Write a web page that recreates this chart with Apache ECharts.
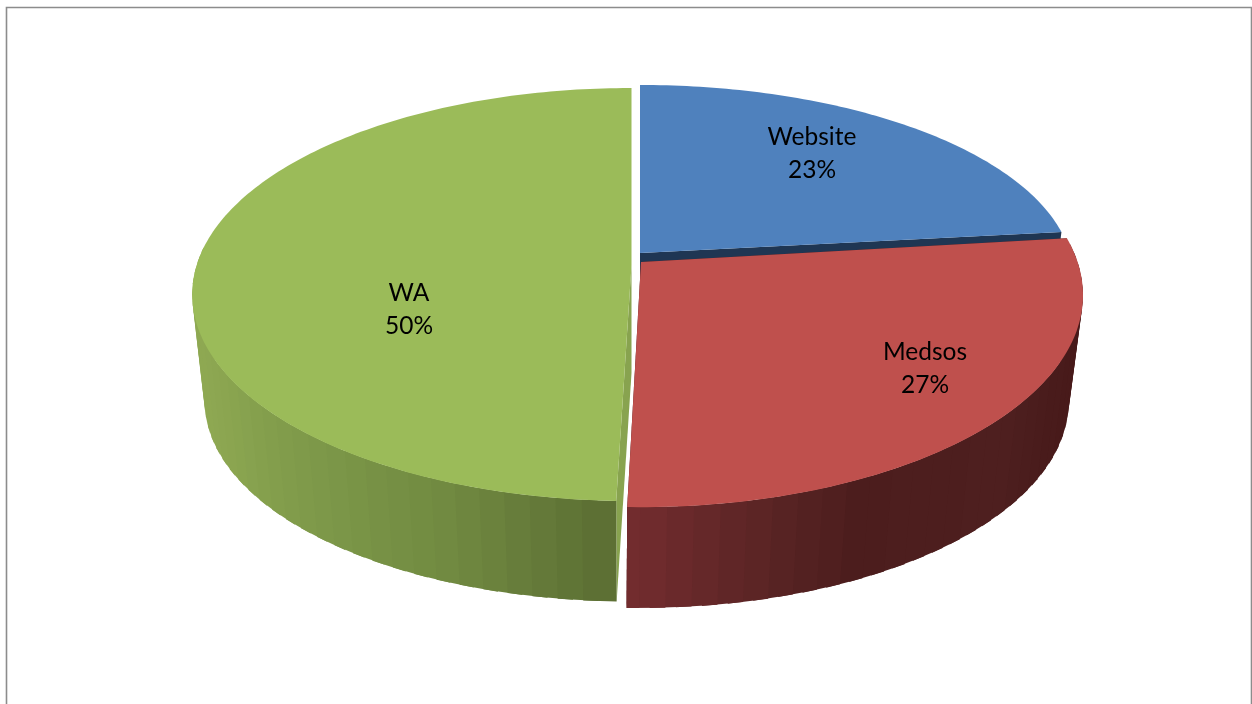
<!DOCTYPE html>
<html>
<head>
<meta charset="utf-8">
<style>html,body{margin:0;padding:0;background:#fff}#c{width:1252px;height:704px}</style>
<script src="https://cdn.jsdelivr.net/npm/echarts@6/dist/echarts.min.js"></script>
</head>
<body>
<div id="c"></div>
<script>
const categories = ['Website', 'Medsos', 'WA'];
const values = [23.2, 27.28, 49.52];
const topColors = ['#4f81bd', '#bf504d', '#9bbb59'];
const faceColors = ['#1f3653', '#4a1c1c', '#88a34f'];
const wallStops = [
  [[0, '#1f3653'], [1300, '#1f3653']],
  [[627, '#722c2e'], [750, '#5c2525'], [850, '#4c1d1d'], [1000, '#4e1f1f'], [1070, '#481a1a']],
  [[205, '#8ea852'], [300, '#7f9a4a'], [450, '#718a41'], [616, '#5b6e33']]
];
// wedge placement: top and bottom discs of each exploded slice
const wedgeGeom = [
  { rot: 0, top: { x: 640, y: 253, A: 430, B: 188.6, k: 0.1224 }, low: { x: 640, y: 361, A: 417, B: 183, k: 0.1224 }, label: [172, -99] },
  { rot: -0.2, top: { x: 641, y: 262, A: 436.6, B: 207, k: 0.1557 }, low: { x: 640, y: 370, A: 423.5, B: 201, k: 0.1557 }, label: [284, 107] },
  { rot: 0, top: { x: 631.5, y: 265, A: 434.8, B: 202.3, k: 0.143 }, low: { x: 631.5, y: 373, A: 422.5, B: 196, k: 0.143 }, label: [-222.5, 45] }
];
const total = values.reduce((a, b) => a + b, 0);
const STEP = 3;
const WALL_FROM = 85, WALL_TO = 275;

function project(p, deg, r) {
  const t = deg * Math.PI / 180;
  const u = r * Math.sin(t), v = -r * Math.cos(t);
  const w = 1 - p.k * v;
  return [p.x + p.A * u / w, p.y + p.B * v / w];
}
function hex(c) { return [1, 3, 5].map(i => parseInt(c.substr(i, 2), 16)); }
function shade(stops, x) {
  if (x <= stops[0][0]) return stops[0][1];
  for (let i = 1; i < stops.length; i++) {
    if (x <= stops[i][0]) {
      const f = (x - stops[i - 1][0]) / (stops[i][0] - stops[i - 1][0]);
      const a = hex(stops[i - 1][1]), b = hex(stops[i][1]);
      return 'rgb(' + a.map((n, j) => Math.round(n + (b[j] - n) * f)).join(',') + ')';
    }
  }
  return stops[stops.length - 1][1];
}
function face(g, a, col) {
  return { type: 'polygon', shape: { points: [
    project(g.top, a, 0), project(g.top, a, 1), project(g.low, a, 1), project(g.low, a, 0)
  ] }, style: { fill: col } };
}
function renderItem(params, api) {
  const i = api.value(0);
  const g = wedgeGeom[i];
  let acc = 0;
  for (let j = 0; j < i; j++) acc += values[j];
  const a0 = acc / total * 360 + g.rot, a1 = (acc + api.value(1)) / total * 360 + g.rot;
  const children = [face(g, a0, faceColors[i]), face(g, a1, faceColors[i])];
  // outer wall strips, each overlapping the next so no seams show
  const s = Math.max(a0, WALL_FROM), e = Math.min(a1, WALL_TO);
  const strips = [];
  for (let a = s; a < e; a += STEP) strips.push(a);
  const ordered = (i === 2) ? strips.slice().reverse() : strips;
  ordered.forEach(a => {
    const hi = Math.min(a + STEP, e), lo = Math.max(a - STEP * 0.3, s), hi2 = Math.min(a + STEP * 1.3, e);
    const mid = project(g.top, (a + hi) / 2, 1);
    const col = shade(wallStops[i], mid[0]);
    children.push({ type: 'polygon', shape: { points: [
      project(g.top, lo, 1), project(g.top, hi2, 1), project(g.low, hi2, 1), project(g.low, lo, 1)
    ] }, style: { fill: col } });
  });
  // top face
  const pts = [project(g.top, a0, 0)];
  for (let a = a0; a < a1; a += 1) pts.push(project(g.top, a, 1));
  pts.push(project(g.top, a1, 1));
  children.push({ type: 'polygon', shape: { points: pts }, style: { fill: topColors[i] } });
  // label
  children.push({ type: 'text', style: {
    x: g.top.x + g.label[0], y: g.top.y + g.label[1],
    text: categories[i] + '\n' + Math.round(api.value(1) / total * 100) + '%',
    font: '24.5px Lato', lineHeight: 33, fill: '#000', align: 'center', verticalAlign: 'middle'
  } });
  return { type: 'group', children };
}
const chart = echarts.init(document.getElementById('c'), null, { renderer: 'canvas' });
chart.setOption({
  animation: false,
  backgroundColor: '#fff',
  graphic: [{ type: 'rect', silent: true, shape: { x: 6.5, y: 7.5, width: 1245, height: 720 },
    style: { fill: 'none', stroke: '#8c8c8c', lineWidth: 1.6 } }],
  series: [{
    type: 'custom',
    coordinateSystem: 'none',
    renderItem,
    data: categories.map((c, i) => ({ name: c, value: [i, values[i]] }))
  }]
});
</script>
</body>
</html>
